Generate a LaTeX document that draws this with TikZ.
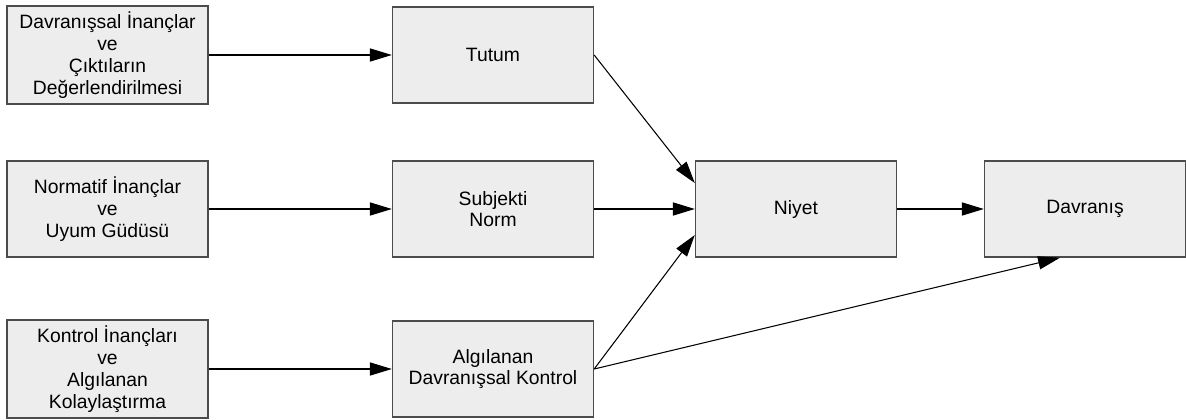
\documentclass[tikz,border=0pt]{standalone}
\usepackage{fontspec}
\setmainfont{Liberation Sans}
\usetikzlibrary{arrows.meta}
\tikzset{
  box/.style={draw=black!70, fill=black!7, line width=0.8pt, rectangle, align=center,
    minimum width=4.02cm, minimum height=1.92cm, font=\fontsize{11}{12.4}\selectfont},
  link/.style={-{Triangle[length=12.5pt,width=7.5pt]}, line width=0.6pt}
}
\begin{document}
\begin{tikzpicture}[x=0.02cm,y=-0.02cm]
\useasboundingbox (0,0) rectangle (1186,419);
\node[box] (dib) at (107.5,55) {Davranışsal İnançlar\\ve\\Çıktıların\\Değerlendirilmesi};
\node[box] (nib) at (107.5,209) {Normatif İnançlar\\ve\\Uyum Güdüsü};
\node[box] (kib) at (107.5,369) {Kontrol İnançları\\ve\\Algılanan\\Kolaylaştırma};
\node[box] (tutum) at (493,55) {Tutum};
\node[box] (norm) at (493,209) {Subjekti\\Norm};
\node[box] (kontrol) at (493,369) {Algılanan\\Davranışsal Kontrol};
\node[box] (niyet) at (796,209) {Niyet};
\node[box] (davranis) at (1085,209) {Davranış};
\draw[link] (dib) -- (tutum);
\draw[link] (nib) -- (norm);
\draw[link] (kib) -- (kontrol);
\draw[link] (tutum.east) -- ([yshift=0.52cm]niyet.west);
\draw[link] (norm) -- (niyet);
\draw[link] (kontrol.east) -- ([yshift=-0.52cm]niyet.west);
\draw[link] (kontrol.east) -- ([xshift=-0.5cm]davranis.south);
\draw[link] (niyet) -- (davranis);
\end{tikzpicture}
\end{document}
